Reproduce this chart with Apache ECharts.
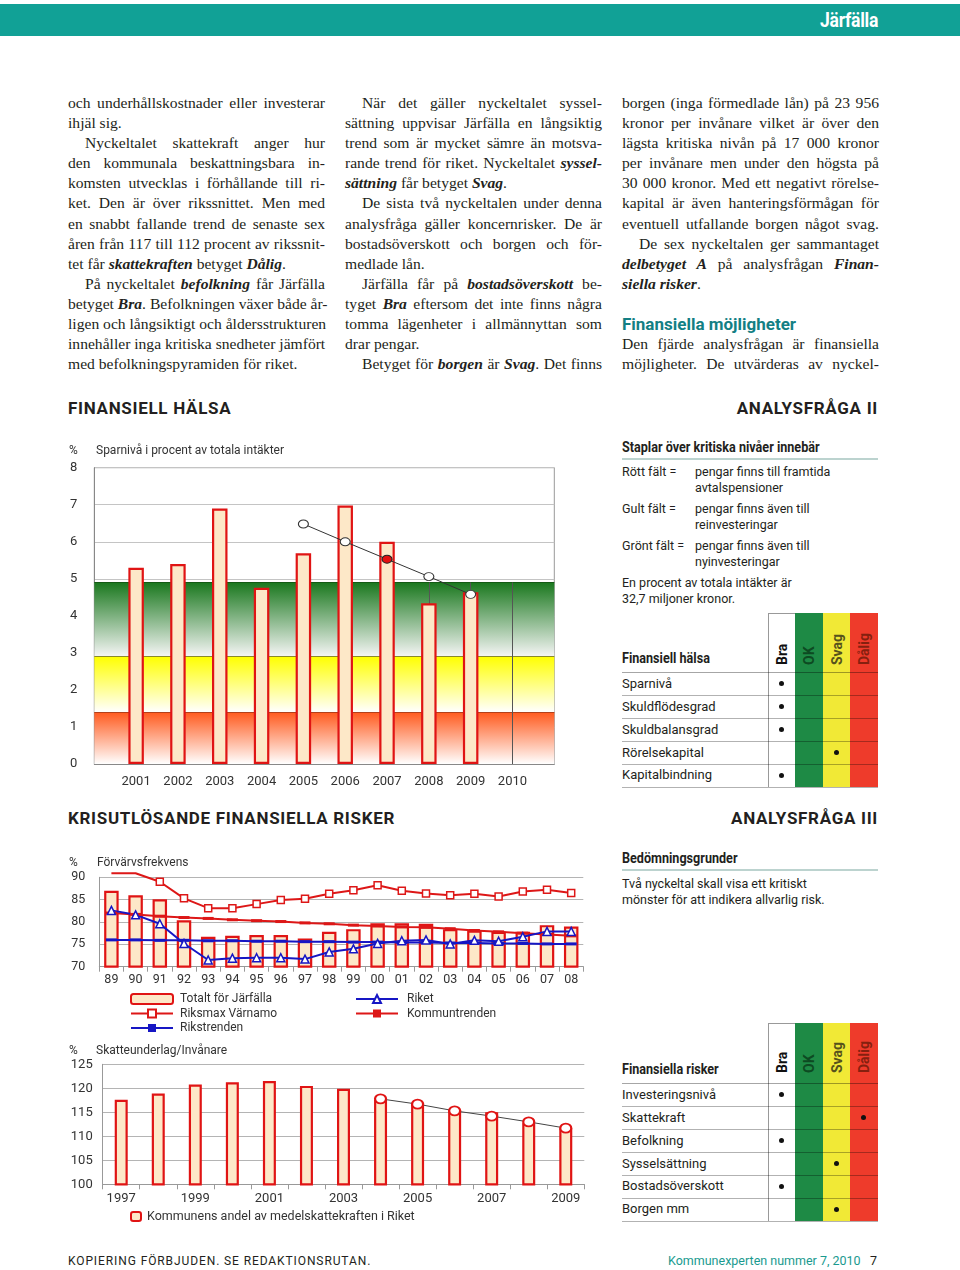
<!DOCTYPE html>
<html><head><meta charset="utf-8">
<script src="https://cdn.jsdelivr.net/npm/echarts@6/dist/echarts.min.js"></script>
<style>
body{margin:0;width:960px;height:1270px;position:relative;background:#fff;overflow:hidden;font-family:Roboto,sans-serif;color:#231f20;}
.abs{position:absolute;}
.hdr{left:0;top:4px;width:960px;height:32px;background:#11a196;}
.hdr span{position:absolute;right:82px;top:4px;color:#fff;font-weight:700;font-size:20px;letter-spacing:-0.3px;transform:scaleX(0.88);transform-origin:right center;}
.col{position:absolute;top:93px;width:257px;font-family:"Liberation Serif",serif;font-size:15.6px;}
.col div{height:20.1px;line-height:20.1px;white-space:nowrap;text-align:justify;text-align-last:justify;}
.col div.e{text-align:left;text-align-last:left;}
.col div.i{text-indent:17px;}
.col div.h{font-family:Roboto,sans-serif;font-weight:700;color:#137f84;font-size:17px;text-align-last:left;}
.sec{position:absolute;font-weight:700;font-size:17px;letter-spacing:0.7px;line-height:20px;color:#231f20;}
.bh{position:absolute;font-weight:700;font-size:14px;white-space:nowrap;transform:scaleX(0.9);transform-origin:left center;line-height:16px;}
.txt{position:absolute;font-size:12.5px;white-space:nowrap;line-height:16px;color:#231f20;}
.rule{position:absolute;height:2px;background:#bcd3cf;}
.chart{position:absolute;}
.foot{position:absolute;top:1253px;font-size:12px;line-height:16px;white-space:nowrap;}
</style></head><body>
<div class="abs hdr"><span>Järfälla</span></div>

<div class="col" style="left:68px">
<div>och underhållskostnader eller investerar</div>
<div class="e">ihjäl sig.</div>
<div class="i">Nyckeltalet skattekraft anger hur</div>
<div>den kommunala beskattningsbara in-</div>
<div>komsten utvecklas i förhållande till ri-</div>
<div>ket. Den är över rikssnittet. Men med</div>
<div>en snabbt fallande trend de senaste sex</div>
<div>åren från 117 till 112 procent av rikssnit-</div>
<div class="e">tet får <b><i>skattekraften</i></b> betyget <b><i>Dålig</i></b>.</div>
<div class="i">På nyckeltalet <b><i>befolkning</i></b> får Järfälla</div>
<div>betyget <b><i>Bra</i></b>. Befolkningen växer både år-</div>
<div>ligen och långsiktigt och åldersstrukturen</div>
<div>innehåller inga kritiska snedheter jämfört</div>
<div class="e">med befolkningspyramiden för riket.</div>
</div>

<div class="col" style="left:345px">
<div class="i">När det gäller nyckeltalet syssel-</div>
<div>sättning uppvisar Järfälla en långsiktig</div>
<div>trend som är mycket sämre än motsva-</div>
<div>rande trend för riket. Nyckeltalet <b><i>syssel-</i></b></div>
<div class="e"><b><i>sättning</i></b> får betyget <b><i>Svag</i></b>.</div>
<div class="i">De sista två nyckeltalen under denna</div>
<div>analysfråga gäller koncernrisker. De är</div>
<div>bostadsöverskott och borgen och för-</div>
<div class="e">medlade lån.</div>
<div class="i">Järfälla får på <b><i>bostadsöverskott</i></b> be-</div>
<div>tyget <b><i>Bra</i></b> eftersom det inte finns några</div>
<div>tomma lägenheter i allmännyttan som</div>
<div class="e">drar pengar.</div>
<div class="i">Betyget för <b><i>borgen</i></b> är <b><i>Svag</i></b>. Det finns</div>
</div>

<div class="col" style="left:622px">
<div>borgen (inga förmedlade lån) på 23 956</div>
<div>kronor per invånare vilket är över den</div>
<div>lägsta kritiska nivån på 17 000 kronor</div>
<div>per invånare men under den högsta på</div>
<div>30 000 kronor. Med ett negativt rörelse-</div>
<div>kapital är även hanteringsförmågan för</div>
<div>eventuell utfallande borgen något svag.</div>
<div class="i">De sex nyckeltalen ger sammantaget</div>
<div><b><i>delbetyget A</i></b> på analysfrågan <b><i>Finan-</i></b></div>
<div class="e"><b><i>siella risker</i></b>.</div>
<div class="e"></div>
<div class="h">Finansiella möjligheter</div>
<div>Den fjärde analysfrågan är finansiella</div>
<div>möjligheter. De utvärderas av nyckel-</div>
</div>

<div class="sec" style="left:68px;top:398px">FINANSIELL HÄLSA</div>
<div class="sec" style="right:82px;top:398px">ANALYSFRÅGA II</div>
<div class="sec" style="left:68px;top:808px">KRISUTLÖSANDE FINANSIELLA RISKER</div>
<div class="sec" style="right:82px;top:808px">ANALYSFRÅGA III</div>

<div class="bh" style="left:622px;top:439px">Staplar över kritiska nivåer innebär</div>
<div class="rule" style="left:622px;top:458px;width:256px"></div>
<div class="txt" style="left:622px;top:464px">Rött fält =</div>
<div class="txt" style="left:695px;top:464px">pengar finns till framtida</div>
<div class="txt" style="left:695px;top:480px">avtalspensioner</div>
<div class="txt" style="left:622px;top:501px">Gult fält =</div>
<div class="txt" style="left:695px;top:501px">pengar finns även till</div>
<div class="txt" style="left:695px;top:517px">reinvesteringar</div>
<div class="txt" style="left:622px;top:538px">Grönt fält =</div>
<div class="txt" style="left:695px;top:538px">pengar finns även till</div>
<div class="txt" style="left:695px;top:554px">nyinvesteringar</div>
<div class="txt" style="left:622px;top:575px">En procent av totala intäkter är</div>
<div class="txt" style="left:622px;top:591px">32,7 miljoner kronor.</div>

<div id="tab1"></div>

<div class="bh" style="left:622px;top:850px">Bedömningsgrunder</div>
<div class="rule" style="left:622px;top:869px;width:256px"></div>
<div class="txt" style="left:622px;top:876px">Två nyckeltal skall visa ett kritiskt</div>
<div class="txt" style="left:622px;top:892px">mönster för att indikera allvarlig risk.</div>

<div id="tab2"></div>

<div id="c1" class="chart" style="left:60px;top:440px;width:540px;height:350px"></div>
<div id="c2" class="chart" style="left:60px;top:850px;width:540px;height:190px"></div>
<div id="c3" class="chart" style="left:60px;top:1040px;width:540px;height:190px"></div>

<div class="foot" style="left:68px;letter-spacing:0.9px">KOPIERING FÖRBJUDEN. SE REDAKTIONSRUTAN.</div>
<div class="foot" style="left:668px;color:#1a9a8f;font-size:12.5px">Kommunexperten nummer 7, 2010</div>
<div class="foot" style="left:870px;font-size:12.5px">7</div>

<script>
// ---------- DATA ----------
const sparYears = [2001, 2002, 2003, 2004, 2005, 2006, 2007, 2008, 2009];
const sparValues = [5.3, 5.4, 6.9, 4.76, 5.69, 6.98, 6.0, 4.34, 4.64];
const sparTrendYears = [2005, 2006, 2007, 2008, 2009];
const sparTrend = [6.48, 6.0, 5.53, 5.06, 4.58];
const sparBands = [1.4, 2.9, 4.9]; // red / yellow / green upper limits

const fvYears = ['89','90','91','92','93','94','95','96','97','98','99','00','01','02','03','04','05','06','07','08'];
const fvJarfalla = [87.0,86.0,85.1,80.4,76.7,76.9,77.1,77.1,76.3,77.8,78.4,79.7,79.7,79.6,78.4,78.1,77.8,77.8,79.3,79.0];
const fvRiksmax = [90.9,90.9,89.0,85.3,83.1,83.1,84.0,84.9,85.2,86.3,87.1,88.2,87.0,86.4,86.0,86.3,85.7,86.8,87.2,86.5];
const fvRiket = [82.6,81.6,79.6,75.2,71.5,71.9,72.0,72.0,71.7,73.3,74.0,75.2,75.8,76.0,75.1,75.9,75.7,76.7,77.9,77.9];
const fvRikstrend = [76.0,76.0,75.9,75.9,75.8,75.8,75.7,75.7,75.6,75.6,75.5,75.5,75.4,75.4,75.3,75.3,75.2,75.2,75.1,75.1];
const fvKommuntrend = [82.0,81.7,81.3,81.0,80.8,80.5,80.3,80.1,79.8,79.6,79.3,79.1,78.9,78.8,78.5,78.1,77.8,77.5,77.2,76.9];

const skYears = ['1997','1998','1999','2000','2001','2002','2003','2004','2005','2006','2007','2008','2009'];
const skValues = [117.6,118.9,120.8,121.25,121.5,120.5,119.9,117.6,117.0,115.5,115.0,112.7,111.7];
const skTrend = [null,null,null,null,null,null,null,117.8,116.7,115.3,114.2,113.0,111.7];

const gradeCols = ['Bra','OK','Svag','Dålig'];
const halsaRows = ['Sparnivå','Skuldflödesgrad','Skuldbalansgrad','Rörelsekapital','Kapitalbindning'];
const halsaGrades = [0,0,0,2,0];
const riskRows = ['Investeringsnivå','Skattekraft','Befolkning','Sysselsättning','Bostadsöverskott','Borgen mm'];
const riskGrades = [0,3,0,2,0,2];

// ---------- TABLES ----------
function buildTable(el, title, rows, grades, top, headBottom, textBottom) {
  const colX = [767.7, 795, 822.7, 850];
  const colW = 27.6;
  const bg = ['#ffffff','#1e8a45','#f1e936','#ee3b2b'];
  const fg = ['#111','#0d4a22','#56521c','#85200f'];
  const rowH = 22.9;
  let h = '';
  const bottom = headBottom + rowH * rows.length;
  for (let c = 0; c < 4; c++) {
    h += `<div class="abs" style="left:${colX[c]}px;top:${top}px;width:${colW}px;height:${bottom-top}px;background:${bg[c]};${c===0?'box-sizing:border-box;border-left:1px solid #999;border-top:1px solid #999;':''}"></div>`;
    h += `<div class="abs" style="left:${colX[c]+colW/2-8}px;top:${textBottom}px;font-weight:700;font-size:14px;line-height:16px;white-space:nowrap;color:${fg[c]};transform-origin:0 0;transform:rotate(-90deg);">${gradeCols[c]}</div>`;
  }
  h += `<div class="bh" style="left:622px;top:${headBottom-22}px">${title}</div>`;
  h += `<div class="abs" style="left:622px;top:${headBottom}px;width:256px;height:1px;background:rgba(0,0,0,0.35)"></div>`;
  rows.forEach((r, i) => {
    const y = headBottom + rowH * i;
    h += `<div class="txt" style="left:622px;top:${y+3.5}px;font-size:13px">${r}</div>`;
    h += `<div class="abs" style="left:622px;top:${y+rowH}px;width:256px;height:1px;background:rgba(0,0,0,0.3)"></div>`;
    const g = grades[i];
    h += `<div class="abs" style="left:${colX[g]+colW/2-2.7}px;top:${y+rowH/2-2.7}px;width:5.4px;height:5.4px;border-radius:50%;background:#111"></div>`;
  });
  el.innerHTML = h;
}
buildTable(document.getElementById('tab1'), 'Finansiell hälsa', halsaRows, halsaGrades, 612.7, 672.3, 665);
buildTable(document.getElementById('tab2'), 'Finansiella risker', riskRows, riskGrades, 1023.3, 1083.3, 1073);

// ---------- CHARTS ----------
const FONT = 'Roboto';
const barFill = '#fde8c8', barEdge = '#e01414';
const grad = (top, bottom) => ({type:'linear', x:0, y:0, x2:0, y2:1, colorStops:[{offset:0,color:top},{offset:1,color:bottom}]});
const ttl = {fontSize:12, fontWeight:'normal', color:'#333', fontFamily:FONT};

// Chart 1
const c1 = echarts.init(document.getElementById('c1'));
c1.setOption({
  animation:false,
  textStyle:{fontFamily:FONT},
  title:[
    {text:'%', left:4, top:0, textStyle:ttl},
    {text:'Sparnivå i procent av totala intäkter', left:31, top:0, textStyle:ttl}
  ],
  grid:{left:34.3, top:27.7, width:460, height:296.3, show:true, borderColor:'#999', borderWidth:1},
  xAxis:{type:'value', min:2000, max:2011, interval:1,
    axisLine:{lineStyle:{color:'#888'}}, axisTick:{show:false}, splitLine:{show:false},
    axisLabel:{fontSize:13, color:'#333', margin:11, formatter:v=> (v>=2001 && v<=2010) ? String(v) : ''}},
  yAxis:{type:'value', min:0, max:8, interval:1,
    axisLine:{show:true, lineStyle:{color:'#888'}}, axisTick:{show:false},
    splitLine:{lineStyle:{color:'#c4c4c4'}},
    axisLabel:{fontSize:13, color:'#333', margin:17}},
  series:[
    {type:'line', data:[], z:1,
      markArea:{silent:true, z:1, data:[
        [{yAxis:0, itemStyle:{color:grad('#ff5a1e','#ffffff')}},{yAxis:sparBands[0]}],
        [{yAxis:sparBands[0], itemStyle:{color:grad('#ffff00','#ffffff')}},{yAxis:sparBands[1]}],
        [{yAxis:sparBands[1], itemStyle:{color:grad('#1a781e','#f6f6f6')}},{yAxis:sparBands[2]}]
      ]},
      markLine:{silent:true, z:2, symbol:'none', label:{show:false}, data:[
        {yAxis:sparBands[0], lineStyle:{color:'#b2401a', type:'solid', width:1}},
        {yAxis:sparBands[1], lineStyle:{color:'#8a8a2a', type:'solid', width:1}},
        {yAxis:sparBands[2], lineStyle:{color:'#145a14', type:'solid', width:1.2}},
        [{coord:[2008,0]},{coord:[2008,sparBands[2]], lineStyle:{color:'#555', type:'solid', width:1}}],
        [{coord:[2009,0]},{coord:[2009,sparBands[2]], lineStyle:{color:'#555', type:'solid', width:1}}],
        [{coord:[2010,0]},{coord:[2010,sparBands[2]], lineStyle:{color:'#555', type:'solid', width:1}}]
      ]}
    },
    {type:'bar', z:5, barWidth:15.5, data:sparYears.map((y,i)=>[y, sparValues[i]]),
      itemStyle:{color:barFill, borderColor:barEdge, borderWidth:2.2}},
    {type:'line', z:8, data:sparTrendYears.map((y,i)=>({value:[y, sparTrend[i]],
        itemStyle: y===2007 ? {color:'#e31010', borderColor:'#222'} : undefined})),
      symbol:'circle', symbolSize:[10,8], showSymbol:true,
      lineStyle:{color:'#333', width:1},
      itemStyle:{color:'#fff', borderColor:'#333', borderWidth:1}}
  ]
});

// Chart 2
const c2 = echarts.init(document.getElementById('c2'));
const lineSer = (name, data, color, symbol, size, hollow) => ({
  name, type:'line', data, z:6, symbol, symbolSize:size, showSymbol:true,
  lineStyle:{color, width:2}, itemStyle:{color: hollow ? '#fff' : color, borderColor:color, borderWidth: hollow ? 1.5 : 0}
});
c2.setOption({
  animation:false,
  textStyle:{fontFamily:FONT},
  title:[
    {text:'%', left:4, top:2, textStyle:ttl},
    {text:'Förvärvsfrekvens', left:32, top:2, textStyle:ttl}
  ],
  grid:{left:39.3, top:27.3, width:484, height:89.4},
  legend:[
    {orient:'vertical', left:70, top:142, height:50, padding:0, itemWidth:42, itemHeight:10, itemGap:0.5,
      textStyle:{fontSize:12, lineHeight:14, color:'#333', fontFamily:FONT, padding:[0,0,0,2]},
      data:['Totalt för Järfälla','Riksmax Värnamo','Rikstrenden']},
    {orient:'vertical', left:295, top:142, height:50, padding:0, itemWidth:42, itemHeight:10, itemGap:0.5,
      textStyle:{fontSize:12, lineHeight:14, color:'#333', fontFamily:FONT, padding:[0,0,0,4]},
      data:['Riket','Kommuntrenden']}
  ],
  xAxis:{type:'category', data:fvYears, boundaryGap:true,
    axisLine:{lineStyle:{color:'#999'}}, axisTick:{show:true, length:5, lineStyle:{color:'#999'}},
    axisLabel:{fontSize:12.5, color:'#333', margin:7, interval:0}},
  yAxis:{type:'value', min:70, max:90, interval:5,
    axisLine:{show:true, lineStyle:{color:'#999'}}, axisTick:{show:false},
    splitLine:{lineStyle:{color:'#b4b4b4'}},
    axisLabel:{fontSize:12.5, color:'#333', margin:14}},
  series:[
    {name:'Totalt för Järfälla', type:'bar', z:3, barWidth:14.5, data:fvJarfalla,
      itemStyle:{color:barFill, borderColor:barEdge, borderWidth:2.2}},
    lineSer('Kommuntrenden', fvKommuntrend, '#dd1717', 'rect', [11,3], false),
    lineSer('Rikstrenden', fvRikstrend, '#1616c4', 'rect', [11,3], false),
    lineSer('Riket', fvRiket, '#1616c4', 'triangle', 8, true),
    Object.assign(lineSer('Riksmax Värnamo', fvRiksmax.map((v,i)=> v>90 ? {value:v, symbol:'none'} : v), '#dd1717', 'rect', 7, true), {clip:false})
  ]
});

// Chart 3
const c3 = echarts.init(document.getElementById('c3'));
c3.setOption({
  animation:false,
  textStyle:{fontFamily:FONT},
  title:[
    {text:'%', left:4, top:0, textStyle:ttl},
    {text:'Skatteunderlag/Invånare', left:31, top:0, textStyle:ttl}
  ],
  grid:{left:42.7, top:24.3, width:481.6, height:120},
  legend:{left:65, top:165, itemWidth:10, itemHeight:9,
    textStyle:{fontSize:12.5, color:'#333', fontFamily:FONT, padding:[0,0,0,1]},
    data:['Kommunens andel av medelskattekraften i Riket']},
  xAxis:{type:'category', data:skYears, boundaryGap:true,
    axisLine:{lineStyle:{color:'#999'}}, axisTick:{show:true, length:5, interval:0, lineStyle:{color:'#999'}},
    axisLabel:{fontSize:13, color:'#333', margin:8, interval:1}},
  yAxis:{type:'value', min:100, max:125, interval:5,
    axisLine:{show:true, lineStyle:{color:'#999'}}, axisTick:{show:false},
    splitLine:{lineStyle:{color:'#b4b4b4'}},
    axisLabel:{fontSize:13, color:'#333', margin:10}},
  series:[
    {name:'Kommunens andel av medelskattekraften i Riket', type:'bar', z:3, barWidth:13, data:skValues,
      itemStyle:{color:barFill, borderColor:barEdge, borderWidth:2.2}},
    {type:'line', z:6, data:skTrend, symbol:'circle', symbolSize:[11,9], showSymbol:true,
      lineStyle:{color:'#444', width:1}, itemStyle:{color:'#fff', borderColor:barEdge, borderWidth:2}}
  ]
});
</script>
</body></html>
